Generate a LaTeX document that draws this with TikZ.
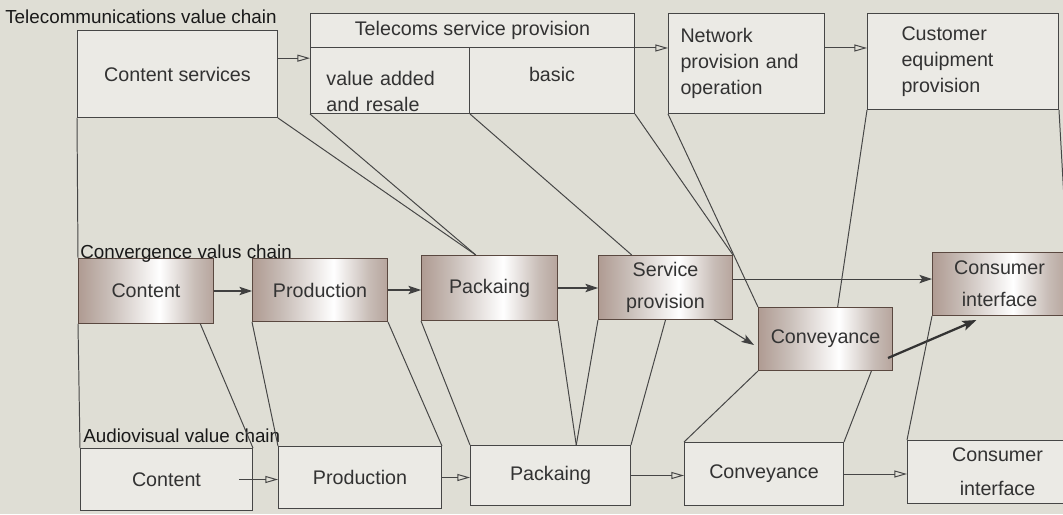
\documentclass[tikz,border=0pt]{standalone}
\usepackage{fontspec}
\setmainfont{Liberation Sans}
\usetikzlibrary{arrows.meta,calc}

\definecolor{paper}{RGB}{223,222,213}
\definecolor{boxfill}{RGB}{235,234,229}
\definecolor{linegrey}{RGB}{70,70,70}
\definecolor{inkgrey}{RGB}{50,50,50}
\definecolor{brownline}{RGB}{90,72,64}
\definecolor{brownA}{RGB}{125,93,80}
\definecolor{brownB}{RGB}{155,127,116}
\definecolor{brownC}{RGB}{200,189,183}

\pgfdeclarehorizontalshading{metal}{100bp}{color(0bp)=(brownA); color(16bp)=(brownB); color(36bp)=(brownC); color(55bp)=(white); color(68bp)=(brownC); color(86bp)=(brownB); color(100bp)=(brownA)}

\newlength{\pxu}
\setlength{\pxu}{0.025cm}

\begin{document}
\begin{tikzpicture}[x=0.025cm, y=-0.025cm, font=\fontsize{14}{18.5}\selectfont, text=inkgrey,
        boxsize/.style 2 args={minimum width=#1\pxu, minimum height=#2\pxu},
        telebox/.style={draw=linegrey, line width=0.7pt, fill=boxfill, anchor=north west, inner sep=0pt},
        avbox/.style={telebox},
        convbox/.style={draw=brownline, line width=0.7pt, shading=metal, anchor=north west, inner sep=0pt,
            align=center, text=black!80, font=\fontsize{14}{23}\selectfont},
        chainlabel/.style={anchor=west, inner sep=0pt, text=black!90, font=\fontsize{13.4}{15}\selectfont},
        link/.style={draw=linegrey, line width=0.7pt},
        openarrow/.style={draw=linegrey, line width=0.7pt, -{Triangle[open, length=9pt, width=5pt]}},
        fillarrow/.style={draw=black!75, line width=0.75pt, -{Stealth[length=9pt, width=6pt, inset=2pt]}},
        thickarrow/.style={draw=black!80, line width=1.6pt, -{Stealth[length=10pt, width=7pt, inset=2pt]}}]

        % Page and background
        \path[use as bounding box, fill=paper] (0,0) rectangle (1063,514);

        % Telecommunications value chain
        \node[chainlabel] (telelabel) at (5,17) {Telecommunications value chain};
        \node[telebox, boxsize={200}{87}] (csrv) at (77,30) {Content services};
        \node[telebox, boxsize={324}{34}] (tsphead) at (310,13) {Telecoms service provision};
        \node[telebox, boxsize={159}{66}, text width=127\pxu, align=left, text height=36\pxu] (tspva) at (310,47) {value added\\and resale};
        \node[telebox, boxsize={165}{66}, text depth=12\pxu] (tspbasic) at (469,47) {basic};
        \node[telebox, boxsize={156}{100}, text width=132\pxu, align=left] (net) at (668,13) {Network\\provision and\\operation};
        \node[telebox, boxsize={191}{96}, text width=123\pxu, align=left] (cequip) at (867,13) {Customer\\equipment\\provision};

        \coordinate (csrvout) at ($(csrv.north east)!0.32!(csrv.south east)$);
        \draw[openarrow] (csrvout) -- (csrvout -| tspva.west);
        \draw[openarrow] (tsphead.south east) -- (tsphead.south east -| net.west);
        \draw[openarrow] (tsphead.south -| net.east) -- (tsphead.south -| cequip.west);

        % Convergence value chain
        \node[convbox, boxsize={135}{65}] (ccont) at (78,258) {Content};
        \node[convbox, boxsize={135}{63}] (cprod) at (252,258) {Production};
        \node[convbox, boxsize={136}{65}] (cpack) at (421,255) {Packaing};
        \node[convbox, boxsize={134}{64}] (cserv) at (598,255) {Service\\provision};
        \node[convbox, boxsize={134}{63}] (cconv) at (758,307) {Conveyance};
        \node[convbox, boxsize={134}{63}] (cconsumer) at (932,252) {Consumer\\interface};
        \node[chainlabel] (convlabel) at (80,254) {Convergence valus chain};

        \draw[fillarrow] (ccont.east) -- (ccont.east -| cprod.west);
        \draw[fillarrow] (cprod.east) -- (cprod.east -| cpack.west);
        \draw[fillarrow] (cpack.east) -- (cpack.east -| cserv.west);
        \coordinate (servout) at ($(cserv.north east)!0.37!(cserv.south east)$);
        \draw[fillarrow] (servout) -- (servout -| cconsumer.west);
        \draw[fillarrow] ($(cserv.south west)!0.86!(cserv.south east)$) -- ($(cconv.west)+(-4,6)$);
        \draw[thickarrow] ($(cconv.south east)+(-5,-13)$) -- ($(cconsumer.south west)!0.33!(cconsumer.south east)+(0,4)$);

        % Audiovisual value chain
        \node[avbox, boxsize={172}{62}] (acont) at (80,448) {Content};
        \node[avbox, boxsize={163}{62}] (aprod) at (278,446) {Production};
        \node[avbox, boxsize={160}{60}] (apack) at (470,445) {Packaing};
        \node[avbox, boxsize={159}{63}] (aconv) at (684,442) {Conveyance};
        \node[avbox, boxsize={180}{63}, align=center, font=\fontsize{14}{24}\selectfont] (aconsumer) at (907,440) {Consumer\\interface};
        \node[chainlabel] (avlabel) at (83,436) {Audiovisual value chain};

        \draw[openarrow] ($(acont.east)+(-14,0)$) -- (acont.east -| aprod.west);
        \draw[openarrow] (aprod.east) -- (aprod.east -| apack.west);
        \draw[openarrow] (apack.east) -- (apack.east -| aconv.west);
        \draw[openarrow] (aconv.east) -- (aconv.east -| aconsumer.west);

        % Lines from the telecoms chain down to the convergence chain
        \coordinate (packtop) at ($(cpack.north west)!0.4!(cpack.north east)$);
        \coordinate (servtop) at ($(cserv.north west)!0.25!(cserv.north east)$);
        \coordinate (convtop) at ($(cconv.north west)!0.59!(cconv.north east)$);
        \draw[link] (csrv.south west) -- (ccont.north west);
        \draw[link] (csrv.south east) -- (packtop);
        \draw[link] (tspva.south west) -- (packtop);
        \draw[link] (tspva.south east) -- (servtop);
        \draw[link] (tspbasic.south east) -- (cserv.north east);
        \draw[link] (net.south west) -- (cconv.north west);
        \draw[link] (cequip.south west) -- (convtop);
        \draw[link] (cequip.south east) -- (cconsumer.north east);

        % Lines from the convergence chain down to the audiovisual chain
        \coordinate (contbot) at ($(ccont.south west)!0.9!(ccont.south east)$);
        \coordinate (packmeet) at ($(apack.north west)!0.66!(apack.north east)$);
        \coordinate (convbot) at ($(cconv.south west)!0.84!(cconv.south east)$);
        \draw[link] (ccont.south west) -- (acont.north west);
        \draw[link] (contbot) -- (acont.north east);
        \draw[link] (cprod.south west) -- (aprod.north west);
        \draw[link] (cprod.south east) -- (aprod.north east);
        \draw[link] (cpack.south west) -- (apack.north west);
        \draw[link] (cpack.south east) -- (packmeet);
        \draw[link] (cserv.south west) -- (packmeet);
        \draw[link] (cserv.south) -- (apack.north east);
        \draw[link] (cconv.south west) -- (aconv.north west);
        \draw[link] (convbot) -- (aconv.north east);
        \draw[link] (cconsumer.south west) -- (aconsumer.north west);
        \draw[link] (cconsumer.south east) -- (aconsumer.north east);
\end{tikzpicture}
\end{document}
